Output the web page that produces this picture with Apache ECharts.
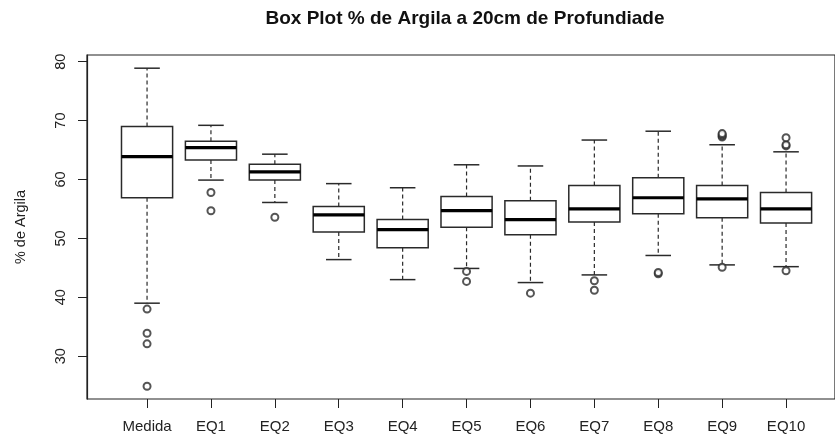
<!DOCTYPE html>
<html>
<head>
<meta charset="utf-8">
<script src="https://cdn.jsdelivr.net/npm/echarts@6/dist/echarts.min.js"></script>
<style>
html,body{margin:0;padding:0;background:#fff;}
#chart{width:835px;height:439px;}
</style>
</head>
<body>
<div id="chart"></div>
<script>
// ---- data ----
const categories = ['Medida','EQ1','EQ2','EQ3','EQ4','EQ5','EQ6','EQ7','EQ8','EQ9','EQ10'];
const lowWhisker  = [39.0, 59.9, 56.1, 46.4, 43.0, 44.9, 42.5, 43.8, 47.1, 45.5, 45.2];
const q1Values    = [56.9, 63.3, 59.9, 51.1, 48.4, 51.9, 50.6, 52.8, 54.2, 53.5, 52.6];
const medianValues= [63.9, 65.4, 61.3, 54.0, 51.5, 54.7, 53.2, 55.0, 56.9, 56.7, 55.0];
const q3Values    = [69.0, 66.5, 62.6, 55.4, 53.2, 57.1, 56.4, 59.0, 60.3, 59.0, 57.8];
const highWhisker = [78.9, 69.2, 64.3, 59.3, 58.6, 62.5, 62.3, 66.7, 68.2, 65.9, 64.7];
const outlierValues = [
  [38.0, 33.9, 32.1, 24.9],
  [57.8, 54.7],
  [53.6],
  [],
  [],
  [44.4, 42.7],
  [40.7],
  [42.8, 41.2],
  [44.0, 44.2],
  [45.1, 67.2, 67.4, 67.6, 67.8],
  [44.5, 65.7, 65.9, 67.1]
];
const yTicks = [30, 40, 50, 60, 70, 80];
const yRange = [22.73, 81.14];
const titleText = 'Box Plot % de Argila a 20cm de Profundiade';
const yName = '% de Argila';

// ---- build series data ----
const boxData = categories.map((c, i) => [i, lowWhisker[i], q1Values[i], medianValues[i], q3Values[i], highWhisker[i]]);
const outData = [];
outlierValues.forEach((arr, i) => arr.forEach(v => outData.push([i, v])));

const FONT = 'Liberation Sans, Arial, sans-serif';
const INK = '#222';

const chart = echarts.init(document.getElementById('chart'), null, {renderer: 'canvas'});
chart.setOption({
  animation: false,
  backgroundColor: '#fff',
  title: {
    text: titleText,
    left: 465, top: 9, textAlign: 'center', padding: 0,
    textStyle: {fontFamily: FONT, fontWeight: 'bold', fontSize: 19, color: '#111'}
  },
  grid: [
    {left: 87, top: 55, width: 759, height: 344, show: true, borderColor: INK, borderWidth: 1.2, backgroundColor: 'transparent'},
    {left: 115.1, top: 55, width: 702.9, height: 344}
  ],
  xAxis: [
    {type: 'value', gridIndex: 0, min: 0.06, max: 11.94, show: false},
    {type: 'category', gridIndex: 1, data: categories, boundaryGap: true,
     axisLine: {show: false},
     axisTick: {show: true, interval: 0, alignWithLabel: true, length: 9, lineStyle: {color: INK, width: 1}},
     axisLabel: {interval: 0, hideOverlap: false, fontFamily: FONT, fontSize: 15, color: INK, margin: 20},
     splitLine: {show: false}}
  ],
  yAxis: [
    {type: 'value', gridIndex: 0, min: yRange[0], max: yRange[1],
     name: yName, nameLocation: 'middle', nameGap: 59, nameRotate: 90,
     nameTextStyle: {fontFamily: FONT, fontSize: 14.5, color: INK},
     axisLine: {show: true, lineStyle: {color: INK, width: 1.2}},
     axisTick: {show: true, length: 9, customValues: yTicks, lineStyle: {color: INK, width: 1}},
     axisLabel: {rotate: 90, customValues: yTicks, fontFamily: FONT, fontSize: 14.5, color: INK, margin: 19},
     splitLine: {show: false}},
    {type: 'value', gridIndex: 1, min: yRange[0], max: yRange[1], show: false, splitLine: {show: false}}
  ],
  series: [
    {
      type: 'custom',
      xAxisIndex: 1, yAxisIndex: 1,
      data: boxData,
      encode: {x: 0, y: [1, 2, 3, 4, 5]},
      renderItem: function (params, api) {
        const xi = api.value(0);
        const band = api.size([1, 0])[0];
        const half = band * 0.4;
        const cap = band * 0.2;
        const pLo = api.coord([xi, api.value(1)]);
        const pQ1 = api.coord([xi, api.value(2)]);
        const pMed = api.coord([xi, api.value(3)]);
        const pQ3 = api.coord([xi, api.value(4)]);
        const pHi = api.coord([xi, api.value(5)]);
        const cx = pMed[0];
        const stroke = '#2a2a2a';
        const dash = {stroke: stroke, lineWidth: 1.2, lineDash: [4, 3], fill: null};
        const solid = {stroke: stroke, lineWidth: 1.5, fill: null};
        return {
          type: 'group',
          children: [
            {type: 'line', shape: {x1: cx, y1: pQ3[1], x2: cx, y2: pHi[1]}, style: dash},
            {type: 'line', shape: {x1: cx, y1: pQ1[1], x2: cx, y2: pLo[1]}, style: dash},
            {type: 'line', shape: {x1: cx - cap, y1: pHi[1], x2: cx + cap, y2: pHi[1]}, style: solid},
            {type: 'line', shape: {x1: cx - cap, y1: pLo[1], x2: cx + cap, y2: pLo[1]}, style: solid},
            {type: 'rect', shape: {x: cx - half, y: pQ3[1], width: half * 2, height: pQ1[1] - pQ3[1]},
             style: {stroke: stroke, lineWidth: 1.5, fill: '#fff'}},
            {type: 'line', shape: {x1: cx - half, y1: pMed[1], x2: cx + half, y2: pMed[1]},
             style: {stroke: '#000', lineWidth: 3.2}}
          ]
        };
      }
    },
    {
      type: 'scatter',
      xAxisIndex: 1, yAxisIndex: 1,
      data: outData,
      symbol: 'emptyCircle',
      symbolSize: 7,
      itemStyle: {color: '#2a2a2a', borderColor: '#2a2a2a', borderWidth: 1}
    }
  ]
});
</script>
</body>
</html>
